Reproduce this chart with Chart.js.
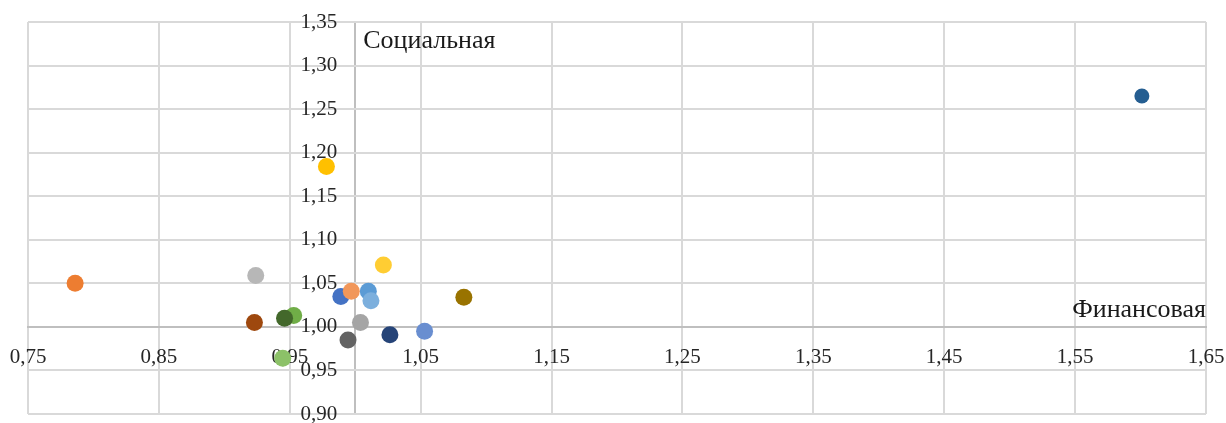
<!DOCTYPE html>
<html>
<head>
<meta charset="utf-8">
<script src="https://cdn.jsdelivr.net/npm/chart.js@4.4.1/dist/chart.umd.min.js"></script>
<style>
html, body { margin: 0; padding: 0; background: #fff; }
#marco { width: 1226px; height: 423px; }
</style>
</head>
<body>
<div id="marco"><canvas id="grafico"></canvas></div>
<script>
// Финансовая (x) и социальная (y) составляющие по каждой точке
const finansovaya = [0.989, 0.786, 1.004, 0.978, 1.010, 0.953, 1.0265, 0.923, 0.9945, 1.083, 1.601, 0.946, 1.053, 0.997, 0.924, 1.0215, 1.012, 0.9446];
const socialnaya  = [1.035, 1.050, 1.005, 1.184, 1.041, 1.013, 0.991, 1.005, 0.985, 1.034, 1.265, 1.010, 0.995, 1.041, 1.059, 1.071, 1.030, 0.964];
const xTicks = [0.75, 0.85, 0.95, 1.00, 1.05, 1.15, 1.25, 1.35, 1.45, 1.55, 1.65];
const yTicks = [0.90, 0.95, 1.00, 1.05, 1.10, 1.15, 1.20, 1.25, 1.30, 1.35];
const tituloX = 'Финансовая';
const tituloY = 'Социальная';

// paleta de Office, una por punto
const colores = ['#4472C4', '#ED7D31', '#A5A5A5', '#FFC000', '#5B9BD5', '#70AD47',
                 '#264478', '#9E480E', '#636363', '#997300', '#255E91', '#43682B',
                 '#698ED0', '#F1975A', '#B7B7B7', '#FFCD33', '#7CAFDD', '#8CC168'];
const radios = colores.map((c, i) => i === 10 ? 7.5 : 8.5);

const fuente = '"Liberation Serif", "Times New Roman", serif';
const fmt = v => Number(v).toFixed(2).replace('.', ',');
const esEje = v => Math.abs(v - 1) < 1e-9;

const titulos = {
    id: 'titulos',
    afterDraw(chart) {
        const {ctx, chartArea, scales} = chart;
        ctx.save();
        ctx.font = '26px ' + fuente;
        ctx.fillStyle = '#1a1a1a';
        ctx.textBaseline = 'alphabetic';
        ctx.textAlign = 'right';
        ctx.fillText(tituloX, chartArea.right, scales.y.getPixelForValue(1) - 10);
        ctx.textAlign = 'left';
        ctx.fillText(tituloY, scales.x.getPixelForValue(1) + 8, chartArea.top + 26);
        ctx.restore();
    }
};

const ctx = document.getElementById('grafico').getContext('2d');
const myChart = new Chart(ctx, {
    type: 'scatter',
    data: {
        datasets: [{
            data: finansovaya.map((x, i) => ({x: x, y: socialnaya[i]})),
            backgroundColor: colores,
            borderColor: colores,
            pointRadius: radios,
            pointHoverRadius: radios,
            borderWidth: 0
        }]
    },
    options: {
        responsive: true,
        maintainAspectRatio: false,
        animation: false,
        layout: { padding: { left: 28, right: 20, top: 22, bottom: 9 } },
        plugins: {
            legend: { display: false },
            tooltip: { enabled: false }
        },
        scales: {
            x: {
                type: 'linear',
                min: 0.75,
                max: 1.65,
                position: { y: 1 },
                afterBuildTicks: s => { s.ticks = xTicks.map(v => ({value: v})); },
                afterFit: s => { s.paddingLeft = 0; s.paddingRight = 0; },
                grid: {
                    color: c => (c.tick && esEje(c.tick.value)) ? '#bfbfbf' : '#d9d9d9',
                    lineWidth: 2,
                    drawTicks: false
                },
                border: { color: '#bfbfbf', width: 2 },
                ticks: {
                    autoSkip: false,
                    maxRotation: 0,
                    padding: 18,
                    color: '#262626',
                    font: { family: fuente, size: 21 },
                    callback: v => esEje(v) ? '' : fmt(v)
                }
            },
            y: {
                type: 'linear',
                min: 0.90,
                max: 1.35,
                // las etiquetas quedan 18px a la izquierda del eje x = 1
                position: { x: 0.98625 },
                afterBuildTicks: s => { s.ticks = yTicks.map(v => ({value: v})); },
                afterFit: s => { s.paddingTop = 0; s.paddingBottom = 0; },
                grid: { color: '#d9d9d9', lineWidth: 2, drawTicks: false },
                border: { display: false },
                ticks: {
                    autoSkip: false,
                    color: '#262626',
                    font: { family: fuente, size: 21 },
                    callback: fmt
                }
            }
        }
    },
    plugins: [titulos]
});
</script>
</body>
</html>
